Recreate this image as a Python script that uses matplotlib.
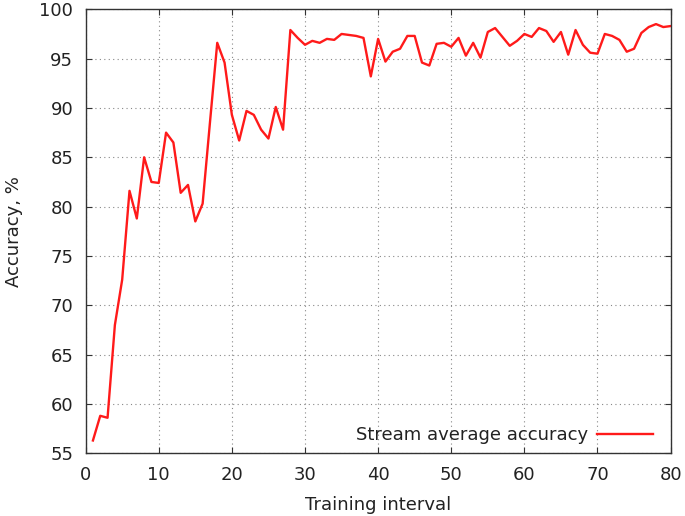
import numpy as np
import matplotlib
matplotlib.use("Agg")
import matplotlib.pyplot as plt

# training interval index
interval = list(range(1, 81))
# stream average accuracy (%)
accuracy = [56.3, 58.8, 58.6, 68.0, 72.6, 81.6, 78.8, 85.0, 82.5, 82.4,
            87.5, 86.5, 81.4, 82.2, 78.5, 80.3, 88.5, 96.6, 94.6, 89.3,
            86.7, 89.7, 89.3, 87.8, 86.9, 90.1, 87.8, 97.9, 97.1, 96.4,
            96.8, 96.6, 97.0, 96.9, 97.5, 97.4, 97.3, 97.1, 93.2, 97.0,
            94.7, 95.7, 96.0, 97.3, 97.3, 94.6, 94.3, 96.5, 96.6, 96.2,
            97.1, 95.3, 96.6, 95.1, 97.7, 98.1, 97.2, 96.3, 96.8, 97.5,
            97.2, 98.1, 97.8, 96.7, 97.7, 95.4, 97.9, 96.4, 95.6, 95.5,
            97.5, 97.3, 96.9, 95.7, 96.0, 97.6, 98.2, 98.5, 98.2, 98.3]
series_label = "Stream average accuracy"

plt.rcParams['font.family'] = ['DejaVu Sans']
plt.rcParams['font.size'] = 13

fig = plt.figure(figsize=(6.85, 5.16), dpi=100)
ax = fig.add_axes([0.125, 0.1215, 0.854, 0.8605])

ax.plot(interval, accuracy, color='#ff1a1a', lw=1.7, label=series_label)

ax.set_xlim(0, 80)
ax.set_ylim(55, 100)
ax.set_xticks(np.arange(0, 81, 10))
ax.set_yticks(np.arange(55, 101, 5))
ax.tick_params(direction='in', top=True, right=True, length=4,
               color='#333333', labelcolor='#222222', pad=9)
ax.grid(True, linestyle=(0, (1, 3)), color='#888888', lw=0.8)
for s in ax.spines.values():
    s.set_color('#333333')
    s.set_linewidth(1.0)

ax.set_xlabel("Training interval", color='#222222', labelpad=9)
ax.set_ylabel("Accuracy, %", color='#222222', labelpad=12)

leg = ax.legend(loc='lower right', frameon=False, markerfirst=False,
                handlelength=3.1, handletextpad=0.5, borderaxespad=0.1,
                bbox_to_anchor=(0.985, 0.0), fontsize=13)
for t in leg.get_texts():
    t.set_color('#222222')

fig.savefig("out.png", dpi=100)
